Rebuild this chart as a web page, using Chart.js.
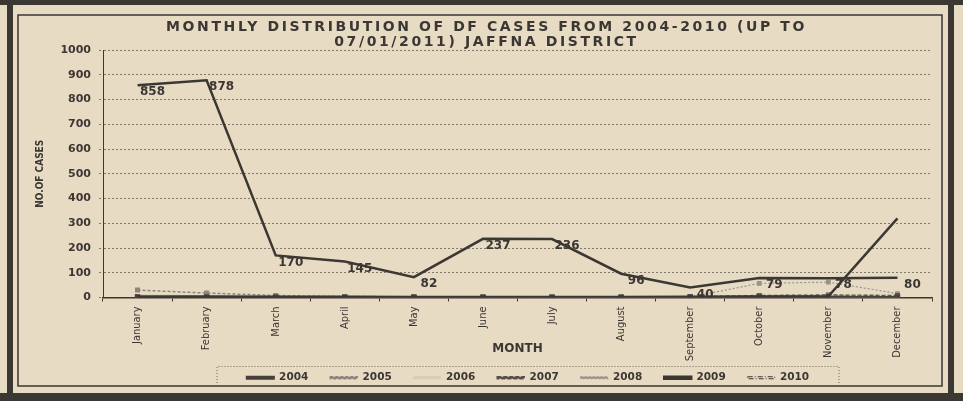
<!DOCTYPE html>
<html>
<head>
<meta charset="utf-8">
<script src="https://cdn.jsdelivr.net/npm/chart.js@4"></script>
<style>
  html, body { margin: 0; padding: 0; background: #e8dbc4; }
  canvas { display: block; }
</style>
</head>
<body>
<canvas id="lineChart" width="963" height="401"></canvas>
<script>
// months along the bottom
const months = ['January', 'February', 'March', 'April', 'May', 'June', 'July',
  'August', 'September', 'October', 'November', 'December'];

// cases per year (small ones are guesses)
const y2004 = [2, 2, 1, 1, 1, 1, 1, 1, 2, 2, 3, 2];
const y2005 = [30, 18, 8, 4, 3, 2, 2, 2, 2, 5, 6, 4];
const y2006 = [12, 8, 5, 3, 2, 2, 1, 1, 1, 2, 2, 2];
const y2007 = [3, 2, 2, 1, 1, 1, 1, 1, 3, 8, 10, 8];
const y2008 = [5, 4, 3, 2, 2, 2, 2, 2, 2, 57, 62, 16];
const y2009 = [4, 4, 3, 3, 2, 2, 2, 2, 3, 4, 5, 320];
const y2010 = [858, 878, 170, 145, 82, 237, 236, 96, 40, 79, 78, 80];

const yTicks = [0, 100, 200, 300, 400, 500, 600, 700, 800, 900, 1000];

const titleLines = ['MONTHLY DISTRIBUTION OF DF CASES FROM 2004-2010 (UP TO',
  '07/01/2011) JAFFNA DISTRICT'];

const ink = '#3b3733';
const paper = '#e8dbc4';

// paper, the double frame, the spaced-out title and the legend box
const framePlugin = {
  id: 'frame',
  afterLayout(chart) {
    // the legend in the scan sits right of centre and a bit lower
    const lg = chart.legend;
    lg.left += 52; lg.right += 52;
    lg.top -= 8; lg.bottom -= 8;
    // let the long month names hang below the axis box (labels are clipped to it)
    chart.scales.x.bottom += 20;
  },
  beforeDraw(chart) {
    const c = chart.ctx;
    c.save();
    c.fillStyle = paper;
    c.fillRect(0, 0, chart.width, chart.height);
    c.fillStyle = ink;
    c.fillRect(7, 0, 6, chart.height);
    c.fillRect(0, 0, chart.width, 5);
    c.fillRect(948, 0, 6, chart.height);
    c.fillRect(0, 393, chart.width, 8);
    c.strokeStyle = ink;
    c.lineWidth = 1.5;
    c.strokeRect(18, 15, 924, 371);
    c.restore();
  },
  afterDraw(chart) {
    const c = chart.ctx;
    // title
    const tb = chart.titleBlock;
    c.save();
    c.font = 'bold 14px "DejaVu Sans"';
    c.letterSpacing = '2.6px';
    c.fillStyle = ink;
    c.textAlign = 'center';
    c.textBaseline = 'middle';
    titleLines.forEach((s, i) => {
      c.fillText(s, chart.width / 2 + 5, tb.top + 10 + 15 * i + 7.5);
    });
    c.restore();

    const lg = chart.legend;
    const mid = (lg.left + lg.right) / 2;
    const l = mid - 311, r = mid + 311;
    const t = lg.top + 16;
    c.save();
    c.strokeStyle = '#6b645c';
    c.lineWidth = 1;
    c.setLineDash([1, 2]);
    c.beginPath();
    c.moveTo(l, 386);
    c.lineTo(l, t);
    c.lineTo(r, t);
    c.lineTo(r, 386);
    c.stroke();
    c.restore();
  }
};

// value labels on the big series
const valueLabels = {
  id: 'valueLabels',
  afterDatasetsDraw(chart) {
    const c = chart.ctx;
    const idx = chart.data.datasets.findIndex(d => d.label === '2010');
    const meta = chart.getDatasetMeta(idx);
    c.save();
    c.font = 'bold 12px "DejaVu Sans"';
    c.fillStyle = ink;
    c.textAlign = 'center';
    c.textBaseline = 'middle';
    meta.data.forEach((pt, i) => {
      c.fillText(String(y2010[i]), pt.x + 15, pt.y + 7);
    });
    c.restore();
  }
};

const ctx = document.getElementById('lineChart').getContext('2d');
const myChart = new Chart(ctx, {
  type: 'line',
  data: {
    labels: months,
    datasets: [
      { label: '2010', data: y2010, borderColor: ink, backgroundColor: ink,
        borderWidth: 2.5, pointRadius: 0, tension: 0 },
      { label: '2009', data: y2009, borderColor: ink, backgroundColor: ink,
        borderWidth: 2.5, pointRadius: 0 },
      { label: '2004', data: y2004, borderColor: '#45403b', backgroundColor: '#45403b',
        borderWidth: 2, pointStyle: 'rect', pointRadius: 2.5 },
      { label: '2005', data: y2005, borderColor: '#8c857c', backgroundColor: '#8c857c',
        borderWidth: 1.5, borderDash: [3, 2], pointStyle: 'rect', pointRadius: 2.5 },
      { label: '2006', data: y2006, borderColor: '#d9ccb4', backgroundColor: '#d9ccb4',
        borderWidth: 1, pointRadius: 0 },
      { label: '2007', data: y2007, borderColor: '#55504a', backgroundColor: '#55504a',
        borderWidth: 1.5, borderDash: [4, 2], pointStyle: 'rect', pointRadius: 2.5 },
      { label: '2008', data: y2008, borderColor: '#9a938a', backgroundColor: '#9a938a',
        borderWidth: 1.2, borderDash: [2, 2], pointStyle: 'rect', pointRadius: 2.5 }
    ]
  },
  options: {
    responsive: false,
    animation: false,
    layout: { padding: { top: 10, left: 20, right: 31, bottom: 0 } },
    plugins: {
      title: {
        display: true,
        text: titleLines,
        color: 'rgba(0,0,0,0)',
        font: { family: '"DejaVu Sans"', size: 14, weight: 'bold', lineHeight: 15 / 14 },
        padding: { top: 9.5, bottom: 0.5 }
      },
      legend: {
        position: 'bottom',
        labels: {
          color: ink,
          font: { family: '"DejaVu Sans"', size: 10.5, weight: 'bold' },
          boxWidth: 27,
          boxHeight: 2,
          padding: 22,
          sort: (a, b) => Number(a.text) - Number(b.text),
          generateLabels: chart => {
            const items = Chart.defaults.plugins.legend.labels.generateLabels(chart);
            items.forEach(it => {
              // the scan's key shows 2010 as a thin broken line
              if (it.text === '2010') {
                it.fillStyle = 'rgba(0,0,0,0)';
                it.lineWidth = 1;
                it.lineDash = [5, 2, 1, 2];
              }
            });
            return items;
          }
        }
      },
      tooltip: { enabled: false }
    },
    scales: {
      x: {
        offset: true,
        afterFit: s => { s.height = 61; },
        grid: { drawOnChartArea: false, drawTicks: true, tickLength: 4, offset: true, color: ink },
        border: { color: ink, width: 1.5 },
        ticks: {
          color: ink,
          minRotation: 90, maxRotation: 90,
          padding: 5,
          font: { family: '"Liberation Sans Narrow", "DejaVu Sans Condensed", "Liberation Sans"', size: 11 }
        },
        title: {
          display: true, text: 'MONTH', color: ink,
          font: { family: '"DejaVu Sans"', size: 12, weight: 'bold' },
          padding: { top: 0, bottom: 22 }
        }
      },
      y: {
        min: 0, max: 1000,
        afterFit: s => { s.width = 83; },
        afterBuildTicks: s => { s.ticks = yTicks.map(v => ({ value: v })); },
        grid: { color: 'rgba(59,55,51,0.6)', tickLength: 4, lineWidth: 1 },
        border: { color: ink, dash: [2, 2], width: 1 },
        ticks: {
          color: ink, padding: 8,
          callback: v => String(v),
          font: { family: '"DejaVu Sans"', size: 11, weight: 'bold' }
        },
        title: {
          display: true, text: 'NO.OF CASES', color: ink,
          font: { family: '"Liberation Sans Narrow", "DejaVu Sans Condensed", "Liberation Sans"', size: 10, weight: 'bold' },
          padding: { top: 14, bottom: 0 }
        }
      }
    }
  },
  plugins: [framePlugin, valueLabels]
});
// dotted grid lines
myChart.options.scales.y.grid.borderDash = [2, 2];
myChart.options.scales.y.grid.tickBorderDash = [2, 2];
myChart.update();
</script>
</body>
</html>
